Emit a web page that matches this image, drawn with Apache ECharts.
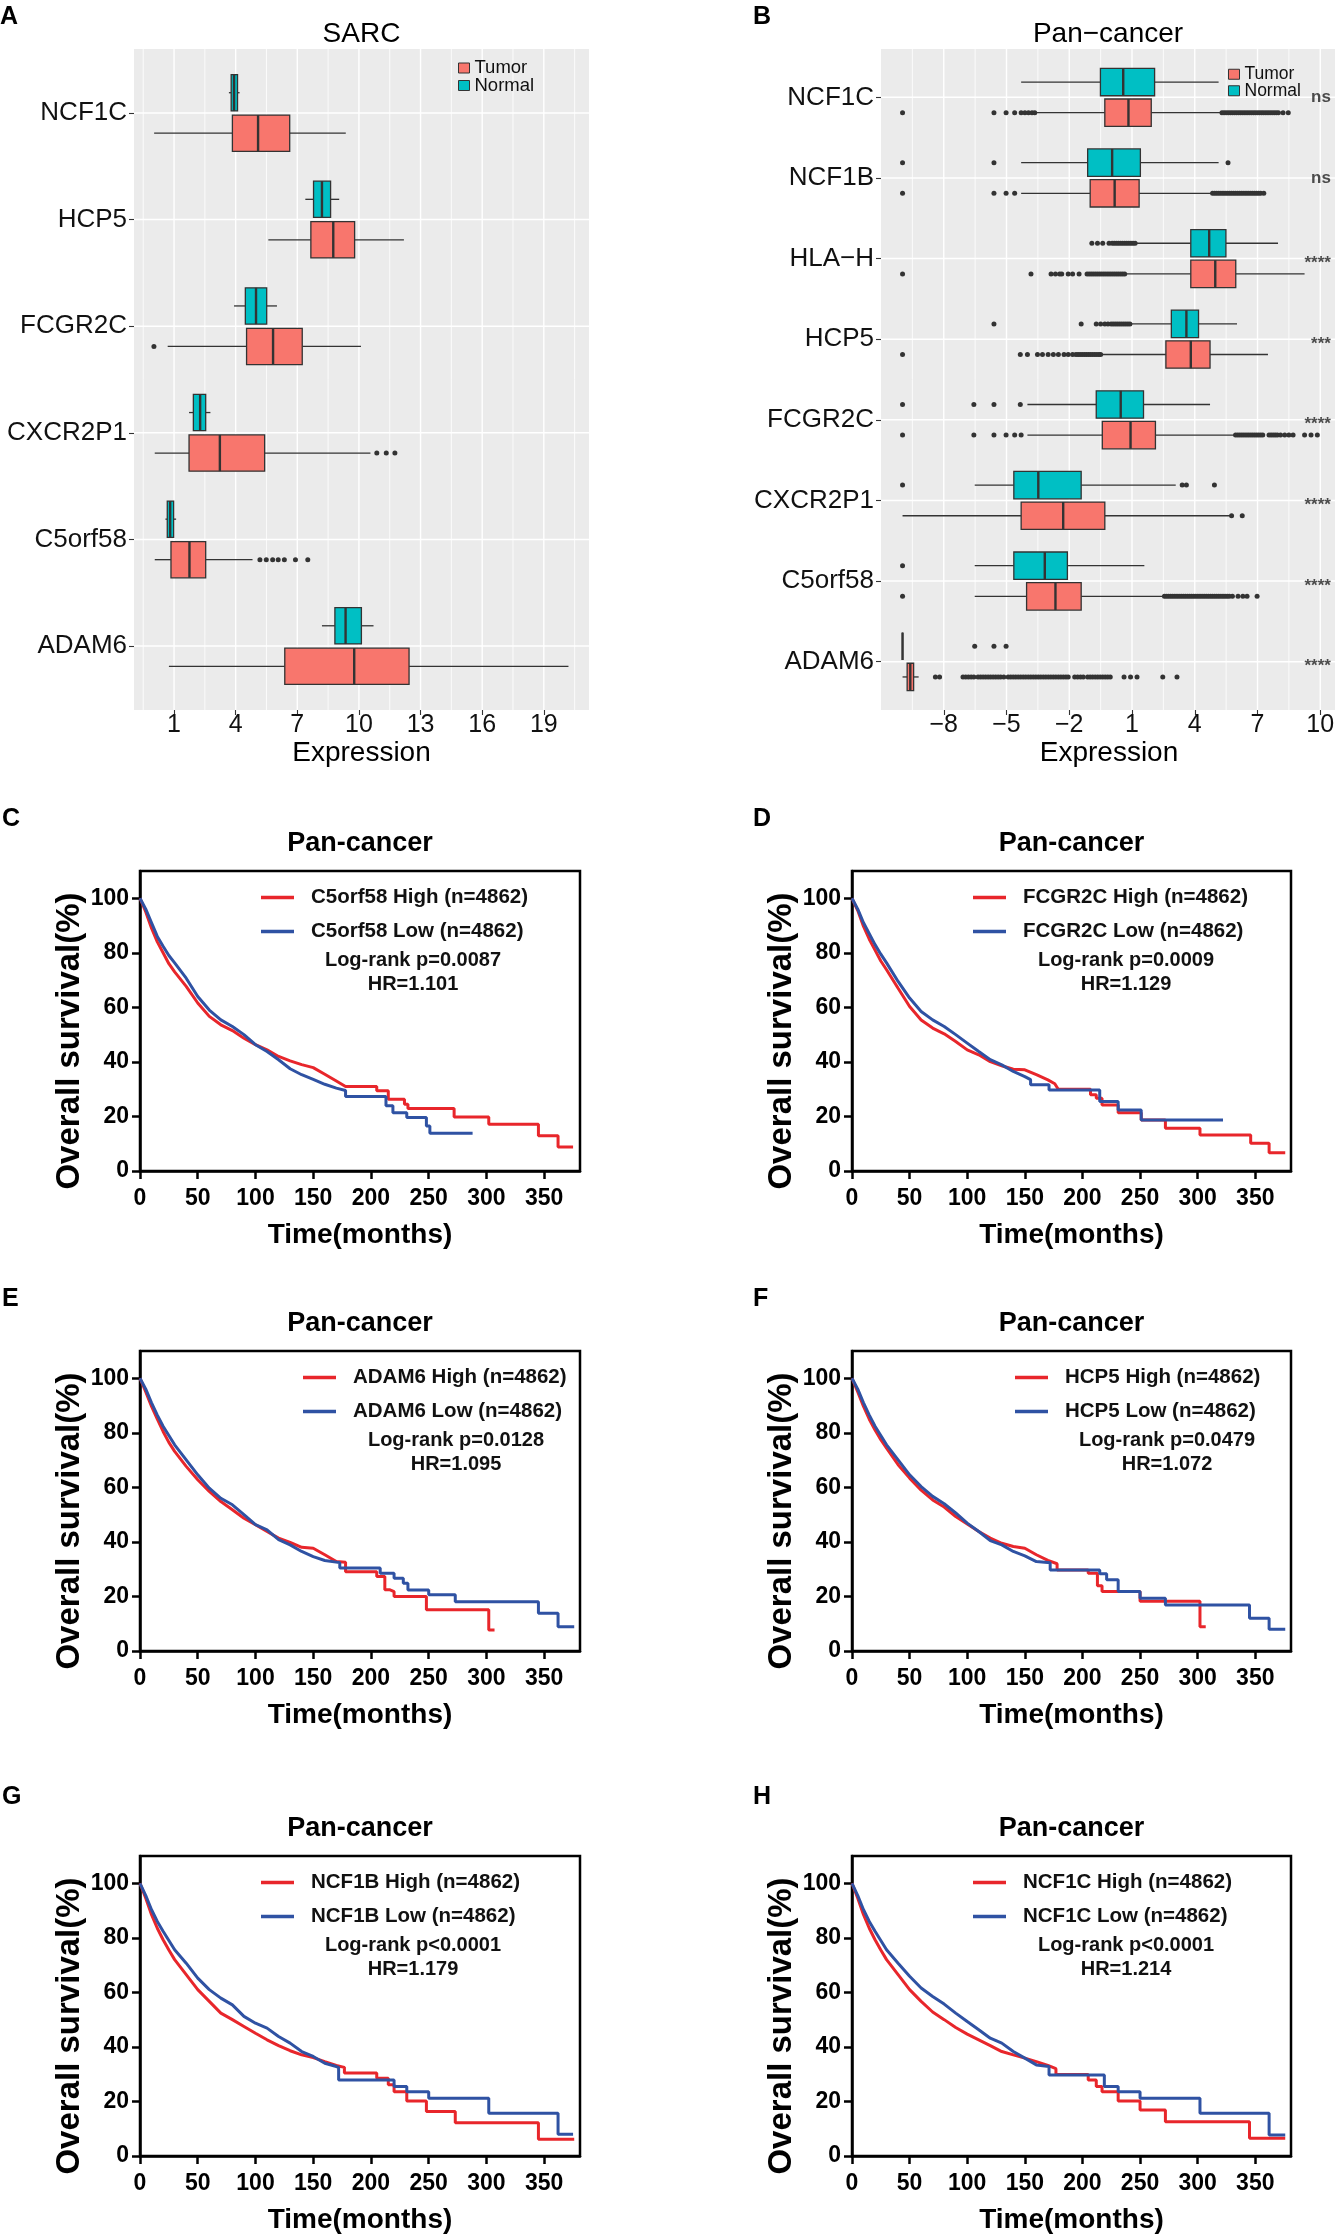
<!DOCTYPE html>
<html><head><meta charset="utf-8">
<script src="https://cdn.jsdelivr.net/npm/echarts@6.0.0/dist/echarts.min.js"></script>
<style>html,body{margin:0;padding:0;background:#fff}#c{width:1335px;height:2235px}</style>
</head><body><div id="c"></div>
<script>
// ---------------- Panel A : SARC ----------------
const sarcGenes = ['NCF1C', 'HCP5', 'FCGR2C', 'CXCR2P1', 'C5orf58', 'ADAM6'];
const sarcTicks = [1, 4, 7, 10, 13, 16, 19];
const sarcMinor = [-0.5, 2.5, 5.5, 8.5, 11.5, 14.5, 17.5, 20.5];
// [whiskerLow, Q1, median, Q3, whiskerHigh]
const sarcTumor = [
  [0.03, 3.84, 5.09, 6.63, 9.36],
  [5.59, 7.66, 8.75, 9.79, 12.19],
  [0.69, 4.53, 5.82, 7.24, 10.10],
  [0.06, 1.73, 3.23, 5.41, 10.56],
  [0.06, 0.85, 1.75, 2.54, 4.82],
  [0.75, 6.39, 9.77, 12.44, 20.20]
];
const sarcNormal = [
  [3.67, 3.78, 3.92, 4.09, 4.19],
  [7.39, 7.79, 8.20, 8.62, 9.04],
  [3.92, 4.47, 4.99, 5.51, 6.01],
  [1.73, 1.94, 2.27, 2.54, 2.77],
  [0.58, 0.67, 0.81, 0.98, 1.10],
  [8.20, 8.83, 9.35, 10.12, 10.71]
];
const sarcTumorOut = [[], [], [0.02], [10.87, 11.33, 11.75], [5.18, 5.49, 5.80, 6.07, 6.37, 6.91, 7.51], []];
const sarcNormalOut = [[], [], [], [], [], []];

// ---------------- Panel B : Pan-cancer ----------------
const panGenes = ['NCF1C', 'NCF1B', 'HLA-H', 'HCP5', 'FCGR2C', 'CXCR2P1', 'C5orf58', 'ADAM6'];
const panTicks = [-8, -5, -2, 1, 4, 7, 10];
const panMinor = [-9.5, -6.5, -3.5, -0.5, 2.5, 5.5, 8.5];
const panSig = ['ns', 'ns', '****', '***', '****', '****', '****', '****'];
const panTumor = [
  [-3.59, -0.30, 0.83, 1.92, 5.24],
  [-4.30, -1.00, 0.17, 1.34, 4.77],
  [0.73, 3.81, 4.98, 5.96, 9.25],
  [-0.44, 2.62, 3.81, 4.73, 7.50],
  [-4.00, -0.42, 0.93, 2.12, 5.90],
  [-9.97, -4.30, -2.29, -0.30, 5.70],
  [-6.52, -4.04, -2.66, -1.43, 2.47],
  [-9.97, -9.75, -9.60, -9.44, -9.20]
];
const panNormal = [
  [-4.30, -0.51, 0.58, 2.08, 5.14],
  [-4.30, -1.12, 0.05, 1.40, 5.14],
  [1.24, 3.81, 4.69, 5.49, 7.98],
  [0.93, 2.88, 3.60, 4.18, 6.02],
  [-4.00, -0.71, 0.46, 1.55, 4.73],
  [-6.52, -4.65, -3.48, -1.43, 3.09],
  [-6.52, -4.65, -3.17, -2.09, 1.59],
  [-9.97, -9.97, -9.97, -9.97, -9.97]
];
const panTumorOut = [
  [-9.97, -5.6, -5.02, -4.61, -4.3, -4.12, -3.95, -3.78, -3.65, 5.3, 5.4, 5.5, 5.6, 5.7, 5.8, 5.9, 6.0, 6.1, 6.2, 6.3, 6.4, 6.5, 6.6, 6.7, 6.8, 6.9, 7.0, 7.1, 7.2, 7.3, 7.4, 7.5, 7.6, 7.7, 7.8, 7.9, 8.0, 8.22, 8.47],
  [-9.97, -5.6, -5.02, -4.61, 4.85, 4.95, 5.05, 5.15, 5.25, 5.35, 5.45, 5.55, 5.65, 5.75, 5.85, 5.95, 6.05, 6.15, 6.25, 6.35, 6.45, 6.55, 6.65, 6.75, 6.85, 6.95, 7.05, 7.15, 7.3],
  [-9.97, -3.83, -2.87, -2.66, -2.46, -2.36, -2.05, -1.84, -1.53, -1.15, -1.05, -0.95, -0.85, -0.75, -0.65, -0.55, -0.45, -0.35, -0.25, -0.15, -0.05, 0.05, 0.15, 0.25, 0.35, 0.45, 0.55, 0.65],
  [-9.97, -4.34, -4.0, -3.52, -3.28, -3.01, -2.76, -2.52, -2.25, -2.05, -1.84, -1.68, -1.58, -1.48, -1.38, -1.28, -1.18, -1.08, -0.98, -0.88, -0.78, -0.68, -0.58, -0.5],
  [-9.97, -6.56, -5.6, -5.02, -4.61, -4.3, 5.95, 6.05, 6.15, 6.25, 6.35, 6.45, 6.55, 6.65, 6.75, 6.85, 6.95, 7.05, 7.15, 7.25, 7.55, 7.65, 7.75, 7.85, 7.95, 8.1, 8.3, 8.5, 8.7, 9.25, 9.56, 9.86],
  [5.76, 6.27],
  [-9.97, 2.55, 2.65, 2.75, 2.85, 2.95, 3.05, 3.15, 3.25, 3.35, 3.45, 3.55, 3.65, 3.75, 3.85, 3.95, 4.05, 4.15, 4.25, 4.35, 4.45, 4.55, 4.65, 4.75, 4.85, 4.95, 5.05, 5.15, 5.25, 5.35, 5.45, 5.55, 5.65, 5.8, 6.07, 6.3, 6.5, 6.98],
  [-8.4, -8.2, -7.08, -6.95, -6.82, -6.69, -6.56, -6.36, -6.24, -6.12, -6.0, -5.88, -5.76, -5.64, -5.52, -5.4, -5.28, -5.13, -4.92, -4.8, -4.68, -4.56, -4.44, -4.32, -4.2, -4.08, -3.96, -3.84, -3.72, -3.6, -3.48, -3.36, -3.24, -3.12, -3.0, -2.88, -2.76, -2.64, -2.52, -2.4, -2.28, -2.16, -2.05, -1.74, -1.6, -1.46, -1.33, -1.12, -1.0, -0.88, -0.76, -0.64, -0.52, -0.4, -0.28, -0.16, -0.04, 0.62, 0.93, 1.24, 2.47, 3.15]
];
const panNormalOut = [
  [],
  [-9.97, -5.6, 5.59],
  [-0.92, -0.65, -0.4, -0.1, 0.05, 0.15, 0.25, 0.35, 0.45, 0.55, 0.65, 0.75, 0.85, 0.95, 1.05, 1.15],
  [-5.6, -1.43, -0.71, -0.5, -0.3, -0.15, 0, 0.1, 0.2, 0.3, 0.4, 0.5, 0.6, 0.7, 0.8, 0.9],
  [-9.97, -6.56, -5.6, -4.34],
  [-9.97, 3.4, 3.6, 4.94],
  [-9.97],
  [-6.52, -5.6, -5.02]
];

// ---------------- Panels C-H : Kaplan-Meier ----------------
const kmTicksX = [0, 50, 100, 150, 200, 250, 300, 350];
const kmTicksY = [0, 20, 40, 60, 80, 100];
const kmGenes = ['C5orf58', 'FCGR2C', 'ADAM6', 'HCP5', 'NCF1B', 'NCF1C'];
const kmN = [4862, 4862, 4862, 4862, 4862, 4862];
const kmPval = ['p=0.0087', 'p=0.0009', 'p=0.0128', 'p=0.0479', 'p<0.0001', 'p<0.0001'];
const kmHR = ['1.101', '1.129', '1.095', '1.072', '1.179', '1.214'];
const kmLetters = ['C', 'D', 'E', 'F', 'G', 'H'];

const c5orf58High = [[0,100],[5,95],[10,89],[15,84],[20,80],[25,76],[30,73],[40,67.7],[50,61.6],[60,56.7],[70,53.6],[80,51.5],[90,48.7],[100,46.3],[110,44.4],[120,42],[130,40.4],[140,39],[150,37.9],[160,35.5],[170,33],[178,31],[205,31],[205,29.4],[215,29.4],[215,26.3],[229,26.3],[229,24.5],[232,24.5],[232,22.9],[272,22.9],[272,19.8],[302,19.8],[302,17.1],[345,17.1],[345,12.9],[362,12.9],[362,8.8],[375,8.8]];
const c5orf58Low = [[0,100],[5,96],[10,91],[15,86],[20,82.4],[25,79],[30,76.3],[40,70.7],[50,64],[60,59],[70,55.4],[80,53],[90,50],[100,46.3],[110,43.8],[120,40.8],[130,37.5],[140,35.3],[150,33.6],[160,31.8],[170,30.4],[178,29.5],[178,27.3],[213,27.3],[213,23.9],[219,23.9],[219,21.4],[231,21.4],[231,19.6],[248,19.6],[248,16.5],[251,16.5],[251,13.8],[288,13.8]];
const fcgr2cHigh = [[0,100],[5,95.5],[10,89.7],[15,85],[20,81],[25,77],[30,73.8],[40,67],[50,60.3],[60,55.4],[70,52.4],[80,50.3],[90,47.5],[100,44.4],[110,42.6],[120,40.1],[130,38.6],[140,37.3],[150,37.1],[160,35.3],[170,33.4],[176,32],[179,30],[207,30],[207,28],[212,28],[212,26.7],[217,26.7],[217,24.2],[231,24.2],[231,21.4],[251,21.4],[251,18.7],[272,18.7],[272,15.7],[302,15.7],[302,13.2],[346,13.2],[346,10.2],[362,10.2],[362,6.7],[376,6.7]];
const fcgr2cLow = [[0,100],[5,96],[10,91],[15,87],[20,83],[25,79.5],[30,76.3],[40,69.5],[50,63.4],[60,58.5],[70,55.4],[80,53],[90,50],[100,46.9],[110,43.8],[120,40.8],[130,38.9],[140,36.5],[150,34.6],[155,33.5],[155,31.6],[171,31.6],[171,29.7],[215,29.7],[215,25.5],[231,25.5],[231,22.4],[251,22.4],[251,18.7],[322,18.7]];
const adam6High = [[0,100],[5,95],[10,89.7],[15,85],[20,80.5],[25,76.5],[30,73.2],[40,67.7],[50,62.8],[60,58.5],[70,54.8],[80,51.8],[90,48.7],[100,46.3],[110,43.8],[120,41.4],[130,39.8],[140,38],[150,37.7],[160,35.3],[170,32.8],[178,32.5],[178,29.1],[205,29.1],[205,27.3],[212,27.3],[212,22.5],[216,22.5],[216,21.8],[220,21.8],[220,20],[248,20],[248,15.1],[302,15.1],[302,7.7],[307,7.7]];
const adam6Low = [[0,100],[5,96],[10,91],[15,86.5],[20,82.4],[25,79],[30,75.6],[40,70.1],[50,64.6],[60,59.7],[70,56],[80,53.6],[90,50],[100,46.3],[110,44.4],[120,40.8],[130,38.9],[140,36.5],[150,34.6],[160,33.2],[173,32.4],[173,30.4],[208,30.4],[208,28.5],[220,28.5],[220,26.7],[228,26.7],[228,24.8],[232,24.8],[232,22.4],[250,22.4],[250,20.6],[273,20.6],[273,18.1],[345,18.1],[345,13.8],[362,13.8],[362,8.9],[376,8.9]];
const hcp5High = [[0,100],[5,95],[10,89.7],[15,85],[20,81],[25,77.5],[30,74.4],[40,68.3],[50,63.4],[60,59],[70,55.4],[80,52.8],[90,49.3],[100,46.6],[110,43.8],[120,41.4],[130,39.5],[140,38.3],[150,37.7],[160,35.3],[170,33.2],[178,32],[178,29.7],[205,29.7],[205,28.5],[213,28.5],[213,23.9],[217,23.9],[217,21.8],[250,21.8],[250,18.2],[302,18.2],[302,8.9],[307,8.9]];
const hcp5Low = [[0,100],[5,96],[10,91],[15,86.5],[20,82.4],[25,79],[30,75.6],[40,70.1],[50,64.6],[60,60.3],[70,56.7],[80,54],[90,50.6],[100,46.9],[110,43.8],[120,40.5],[130,38.9],[140,36.5],[150,34.9],[160,32.8],[172,32.4],[172,29.7],[215,29.7],[215,28.3],[221,28.3],[221,26.1],[231,26.1],[231,21.8],[250,21.8],[250,19.3],[272,19.3],[272,16.9],[345,16.9],[345,12],[362,12],[362,8],[376,8]];
const ncf1bHigh = [[0,100],[5,94.5],[10,88.5],[15,83.5],[20,79.3],[25,75.5],[30,72],[40,66.5],[50,61],[60,56.7],[70,52.4],[80,50],[90,47.5],[100,45],[110,42.6],[120,40.5],[130,38.6],[140,37.1],[150,36.1],[160,34.6],[170,33.2],[177,32.5],[177,30.4],[205,30.4],[205,28.5],[215,28.5],[215,26.1],[220,26.1],[220,23.6],[231,23.6],[231,20.2],[248,20.2],[248,16.3],[273,16.3],[273,12.2],[345,12.2],[345,6.1],[376,6.1]];
const ncf1bLow = [[0,100],[5,95.5],[10,90.3],[15,86],[20,82.4],[25,79],[30,75.6],[40,70.7],[50,65.2],[60,61],[70,57.9],[80,55.4],[90,51.2],[100,48.7],[110,46.9],[120,43.8],[130,41.4],[140,38.3],[150,36.5],[160,34],[170,32.8],[172,32.5],[172,27.9],[220,27.9],[220,25.5],[231,25.5],[231,23.6],[250,23.6],[250,21.2],[302,21.2],[302,15.7],[362,15.7],[362,8],[375,8]];
const ncf1cHigh = [[0,100],[5,94.5],[10,88.5],[15,83.5],[20,79.3],[25,75.5],[30,72],[40,66.5],[50,61],[60,56.7],[70,52.8],[80,50],[90,47.1],[100,44.7],[110,42.6],[120,40.5],[130,38.3],[140,37.1],[150,35.9],[160,34.6],[170,33.2],[177,32],[177,29.9],[205,29.9],[205,27.9],[212,27.9],[212,25.5],[217,25.5],[217,23.6],[231,23.6],[231,20.2],[250,20.2],[250,16.9],[272,16.9],[272,12.6],[345,12.6],[345,6.5],[376,6.5]];
const ncf1cLow = [[0,100],[5,95.5],[10,90.3],[15,86],[20,82.4],[25,79],[30,75.6],[40,70.7],[50,65.9],[60,61.6],[70,58.5],[80,55.7],[90,52.4],[100,49.3],[110,46.3],[120,43.2],[130,41.4],[140,38.3],[150,35.9],[160,33.4],[171,32.8],[171,29.7],[219,29.7],[219,25.5],[231,25.5],[231,23.6],[250,23.6],[250,21.2],[302,21.2],[302,15.7],[362,15.7],[362,7.7],[376,7.7]];
const kmHigh = [c5orf58High, fcgr2cHigh, adam6High, hcp5High, ncf1bHigh, ncf1cHigh];
const kmLow = [c5orf58Low, fcgr2cLow, adam6Low, hcp5Low, ncf1bLow, ncf1cLow];

// ---------------- Styling / layout ----------------
const FONT = "'Liberation Sans', Arial, Helvetica, sans-serif";
const TUMOR = '#F8766D', NORMAL = '#00BFC4';
const RED = '#E8262B', BLUE = '#2F52A3';
const kmBox = [[140, 871, 440], [852, 871, 439], [140, 1351, 440], [852, 1351, 439], [140, 1856, 440], [852, 1856, 439]];
const kmLegX = [121, 121, 163, 163, 121, 121];
const kmTxtX = [273, 274, 316, 315, 273, 274];
const kmLetterPos = [[2, 807], [753, 807], [2, 1287], [753, 1287], [2, 1785], [753, 1785]];
const BOX_OFF = 0.19, BOX_H = 0.34;

function vGrid(width) {
  return function (params, api) {
    const cs = params.coordSys;
    const x = api.coord([api.value(0), api.value(1)])[0];
    return {type: 'line', shape: {x1: x, y1: cs.y, x2: x, y2: cs.y + cs.height}, style: {stroke: '#FFFFFF', lineWidth: width}};
  };
}
function hGrid(width) {
  return function (params, api) {
    const cs = params.coordSys;
    const y = api.coord([api.value(0), api.value(1)])[1];
    return {type: 'line', shape: {x1: cs.x, y1: y, x2: cs.x + cs.width, y2: y}, style: {stroke: '#FFFFFF', lineWidth: width}};
  };
}
function boxRender(off) {
  return function (params, api) {
    const c = api.value(0) + off;
    const lo = api.coord([api.value(1), c]);
    const q1 = api.coord([api.value(2), c]);
    const md = api.coord([api.value(3), c]);
    const q3 = api.coord([api.value(4), c]);
    const hi = api.coord([api.value(5), c]);
    const h = Math.abs(api.size([0, BOX_H])[1]);
    const y = lo[1];
    const st = {stroke: '#333333', lineWidth: 1.3};
    return {type: 'group', children: [
      {type: 'line', shape: {x1: lo[0], y1: y, x2: q1[0], y2: y}, style: st},
      {type: 'line', shape: {x1: q3[0], y1: y, x2: hi[0], y2: y}, style: st},
      {type: 'rect', shape: {x: q1[0], y: y - h / 2, width: q3[0] - q1[0], height: h}, style: {fill: api.visual('color'), stroke: '#333333', lineWidth: 1.3}},
      {type: 'line', shape: {x1: md[0], y1: y - h / 2, x2: md[0], y2: y + h / 2}, style: {stroke: '#333333', lineWidth: 2.4}}
    ]};
  };
}
function boxSeries(name, gi, stats, off, color) {
  return {type: 'custom', name: name, xAxisIndex: gi, yAxisIndex: gi, z: 3, itemStyle: {color: color},
    encode: {x: [1, 2, 3, 4, 5], y: 0}, data: stats.map((s, i) => [i].concat(s)), renderItem: boxRender(off)};
}
function outSeries(gi, outs, off) {
  const data = [];
  outs.forEach((vals, i) => vals.forEach(v => data.push([v, i + off])));
  return {type: 'scatter', xAxisIndex: gi, yAxisIndex: gi, z: 4, symbolSize: 5, silent: true,
    itemStyle: {color: '#333333', opacity: 1}, data: data};
}
function gridLines(gi, majors, minors, ncat, xmid) {
  return [
    {type: 'custom', xAxisIndex: gi, yAxisIndex: gi, z: 1, silent: true, renderItem: vGrid(0.8), data: minors.map(v => [v, 0])},
    {type: 'custom', xAxisIndex: gi, yAxisIndex: gi, z: 1, silent: true, renderItem: vGrid(1.4), data: majors.map(v => [v, 0])},
    {type: 'custom', xAxisIndex: gi, yAxisIndex: gi, z: 1, silent: true, renderItem: hGrid(1.5), data: Array.from({length: ncat}, (_, i) => [xmid, i])}
  ];
}
const minus = v => String(v).replace('-', '\u2212');

function ggX(gi, min, max, ticks) {
  return {gridIndex: gi, type: 'value', min: min, max: max, name: 'Expression', nameLocation: 'middle', nameGap: 26,
    nameTextStyle: {fontSize: 28, color: '#000', fontFamily: FONT},
    axisLine: {show: false, onZero: false}, splitLine: {show: false},
    axisTick: {show: true, customValues: ticks, length: 5, lineStyle: {color: '#333', width: 1.1}},
    axisLabel: {customValues: ticks, formatter: minus, fontSize: 25, color: '#111', margin: 3, fontFamily: FONT}};
}
function ggY(gi, genes) {
  const idx = genes.map((_, i) => i);
  return {gridIndex: gi, type: 'value', inverse: true, min: -0.6, max: genes.length - 0.4,
    axisLine: {show: false, onZero: false}, splitLine: {show: false},
    axisTick: {show: true, customValues: idx, length: 5, lineStyle: {color: '#333', width: 1.1}},
    axisLabel: {customValues: idx, formatter: v => minus(genes[Math.round(v)]), fontSize: 26, color: '#111', margin: 7, fontFamily: FONT}};
}

const grids = [
  {left: 134, top: 49, width: 455, height: 661, show: true, backgroundColor: '#EBEBEB', borderWidth: 0, outerBoundsMode: 'none'},
  {left: 881, top: 49, width: 456, height: 661, show: true, backgroundColor: '#EBEBEB', borderWidth: 0, outerBoundsMode: 'none'}
];
const xAxes = [ggX(0, -0.95, 21.2, sarcTicks), ggX(1, -11.0, 10.8, panTicks)];
const yAxes = [ggY(0, sarcGenes), ggY(1, panGenes)];
const series = [];
series.push(...gridLines(0, sarcTicks, sarcMinor, sarcGenes.length, 5));
series.push(...gridLines(1, panTicks, panMinor, panGenes.length, 0));
series.push(boxSeries('Tumor', 0, sarcTumor, BOX_OFF, TUMOR), boxSeries('Normal', 0, sarcNormal, -BOX_OFF, NORMAL));
series.push(outSeries(0, sarcTumorOut, BOX_OFF), outSeries(0, sarcNormalOut, -BOX_OFF));
series.push(boxSeries('Tumor', 1, panTumor, BOX_OFF, TUMOR), boxSeries('Normal', 1, panNormal, -BOX_OFF, NORMAL));
series.push(outSeries(1, panTumorOut, BOX_OFF), outSeries(1, panNormalOut, -BOX_OFF));
series.push({type: 'scatter', xAxisIndex: 1, yAxisIndex: 1, z: 6, symbolSize: 0.1, silent: true,
  itemStyle: {color: 'rgba(0,0,0,0)'},
  data: panSig.map((s, i) => ({value: [10.7, i], label: {offset: [0, s === 'ns' ? 0 : 5]}})),
  label: {show: true, position: 'left', distance: 4, formatter: p => panSig[p.dataIndex],
    fontSize: 17, fontWeight: 'bold', color: '#222', fontFamily: FONT}});

const titles = [
  {text: 'A', left: 0, top: 4.5},
  {text: 'B', left: 753, top: 4.5},
  {text: 'SARC', left: 361.5, top: 20.4, textAlign: 'center', fontSize: 28, fontWeight: 'normal'},
  {text: 'Pan\u2212cancer', left: 1108, top: 20.4, textAlign: 'center', fontSize: 28, fontWeight: 'normal'}
].map(t => ({text: t.text, left: t.left, top: t.top, padding: 0, textAlign: t.textAlign || 'left',
  textStyle: {fontSize: t.fontSize || 25, fontWeight: t.fontWeight || 'bold', color: '#000', fontFamily: FONT}}));

const legends = [
  {left: 458, top: 58.5, size: 18.5},
  {left: 1228, top: 65.25, size: 17.5}
].map(p => ({data: ['Tumor', 'Normal'], orient: 'vertical', left: p.left, top: p.top, padding: 0, itemGap: -1.5,
  icon: 'rect', itemWidth: 11, itemHeight: 10, selectedMode: false,
  itemStyle: {borderColor: '#333', borderWidth: 1},
  textStyle: {fontSize: p.size, color: '#111', fontFamily: FONT}}));

kmGenes.forEach((g, k) => {
  const gi = k + 2;
  const [L, T, W] = kmBox[k];
  grids.push({left: L, top: T, width: W, height: 300, show: true, backgroundColor: '#fff', borderColor: '#000', borderWidth: 2.5, outerBoundsMode: 'none'});
  xAxes.push({gridIndex: gi, type: 'value', min: 0, max: 381, name: 'Time(months)', nameLocation: 'middle', nameGap: 50,
    nameTextStyle: {fontSize: 28, fontWeight: 'bold', color: '#000', fontFamily: FONT},
    axisLine: {show: true, onZero: false, lineStyle: {color: '#000', width: 2.5}}, splitLine: {show: false},
    axisTick: {show: true, customValues: kmTicksX, length: 8, lineStyle: {color: '#000', width: 2.5}},
    axisLabel: {customValues: kmTicksX, fontSize: 23, fontWeight: 'bold', color: '#000', margin: 16, fontFamily: FONT}});
  yAxes.push({gridIndex: gi, type: 'value', min: 0, max: 110, name: 'Overall survival(%)', nameLocation: 'middle', nameGap: 54,
    nameTextStyle: {fontSize: 33, fontWeight: 'bold', color: '#000', fontFamily: FONT, padding: [0, 40, 0, 0]},
    axisLine: {show: true, onZero: false, lineStyle: {color: '#000', width: 2.5}}, splitLine: {show: false},
    axisTick: {show: true, customValues: kmTicksY, length: 8, lineStyle: {color: '#000', width: 2.5}},
    axisLabel: {customValues: kmTicksY, fontSize: 23, fontWeight: 'bold', color: '#000', margin: 11, fontFamily: FONT}});
  const hiName = g + ' High (n=' + kmN[k] + ')';
  const loName = g + ' Low (n=' + kmN[k] + ')';
  series.push({type: 'line', name: hiName, xAxisIndex: gi, yAxisIndex: gi, data: kmHigh[k], showSymbol: false, symbol: 'none',
    lineStyle: {color: RED, width: 3}, itemStyle: {color: RED}, z: 3});
  series.push({type: 'line', name: loName, xAxisIndex: gi, yAxisIndex: gi, data: kmLow[k], showSymbol: false, symbol: 'none',
    lineStyle: {color: BLUE, width: 3}, itemStyle: {color: BLUE}, z: 4});
  legends.push({data: [hiName, loName], orient: 'vertical', left: L + kmLegX[k], top: T + 16, padding: 0, itemGap: 13,
    icon: 'rect', itemWidth: 33, itemHeight: 3.5, selectedMode: false,
    textStyle: {fontSize: 20.5, fontWeight: 'bold', color: '#111', fontFamily: FONT, padding: [0, 0, 0, 12]}});
  titles.push({text: 'Pan-cancer', left: L + W / 2, top: T - 40.5, padding: 0, textAlign: 'center',
    textStyle: {fontSize: 27, fontWeight: 'bold', color: '#000', fontFamily: FONT}});
  titles.push({text: 'Log-rank ' + kmPval[k] + '\nHR=' + kmHR[k], left: L + kmTxtX[k], top: T + 78, padding: 0, textAlign: 'center',
    textStyle: {fontSize: 20, fontWeight: 'bold', color: '#111', fontFamily: FONT, lineHeight: 23.5}});
  titles.push({text: kmLetters[k], left: kmLetterPos[k][0], top: kmLetterPos[k][1], padding: 0, textAlign: 'left',
    textStyle: {fontSize: 25, fontWeight: 'bold', color: '#000', fontFamily: FONT}});
});

const chart = echarts.init(document.getElementById('c'), null, {renderer: 'canvas'});
chart.setOption({
  animation: false,
  backgroundColor: '#fff',
  textStyle: {fontFamily: FONT},
  title: titles,
  legend: legends,
  grid: grids,
  xAxis: xAxes,
  yAxis: yAxes,
  series: series
});
</script></body></html>
